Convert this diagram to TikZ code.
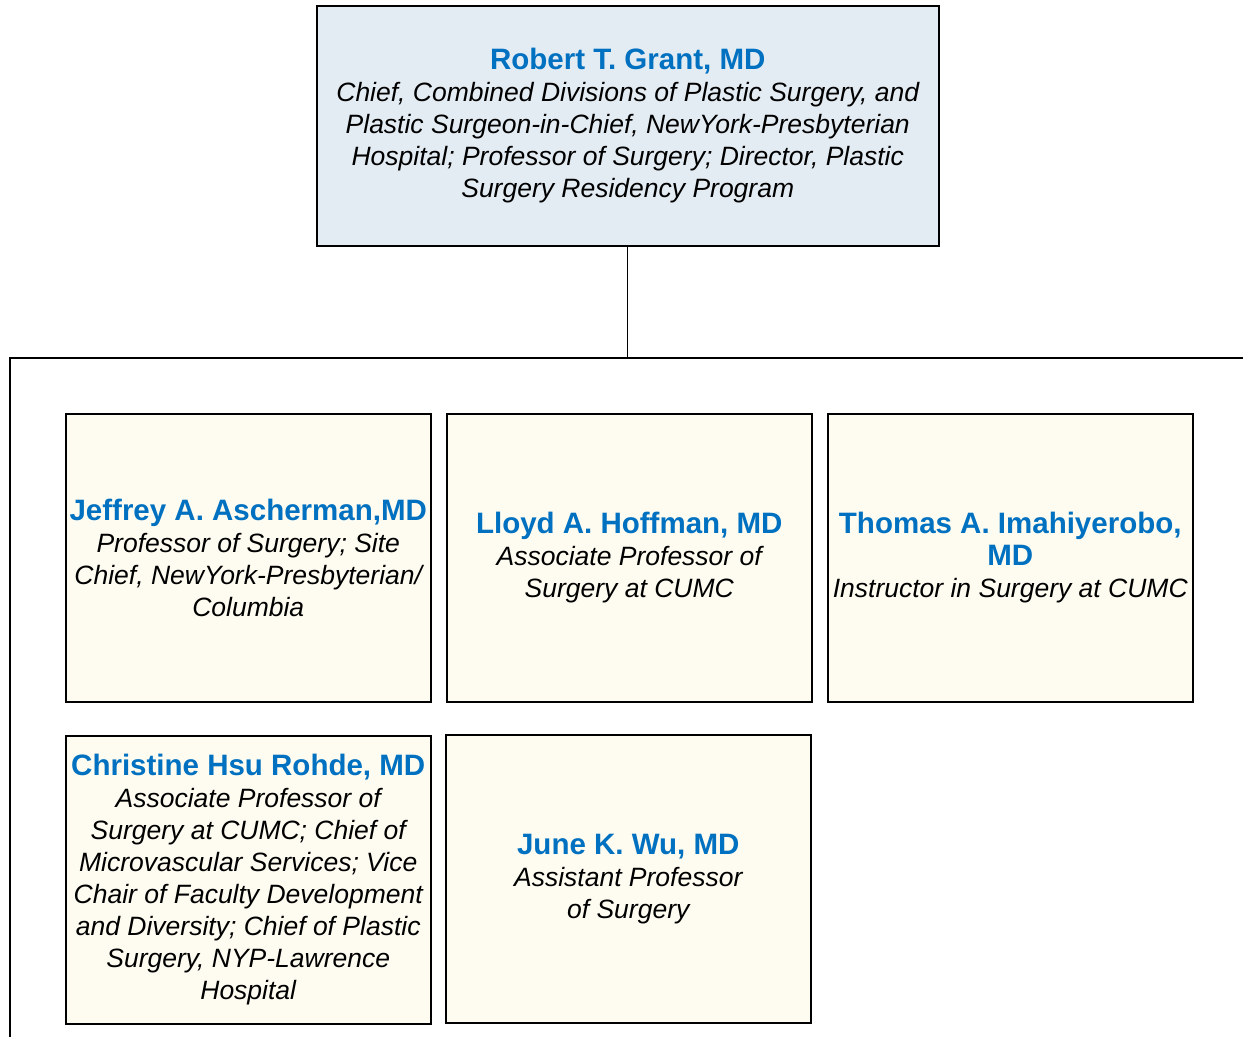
\documentclass[tikz,border=0pt]{standalone}
\usepackage{fontspec}
\setmainfont{Liberation Sans}
\definecolor{namecol}{HTML}{0070C0}
\definecolor{topfill}{HTML}{E4ECF3}
\definecolor{boxfill}{HTML}{FEFCF0}
\tikzset{
  personbox/.style={draw=black, line width=1.5pt, fill=boxfill, minimum width=365pt, minimum height=288pt, inner sep=0pt, align=center, anchor=north west, font=\fontsize{26.5}{32}\selectfont\itshape},
  topbox/.style={personbox, fill=topfill, minimum width=622pt, minimum height=240pt},
  wire/.style={draw=black, line width=1.4pt}
}
\newcommand{\pname}[1]{{\fontsize{29.5}{32}\selectfont\bfseries\upshape\color{namecol}#1}}
\begin{document}
\begin{tikzpicture}[x=1pt,y=-1pt]
\useasboundingbox (0,0) rectangle (1243,1037);
\node[topbox] (grant) at (316,5) {\pname{Robert T. Grant, MD}\\ Chief, Combined Divisions of Plastic Surgery, and\\ Plastic Surgeon-in-Chief, NewYork-Presbyterian\\ Hospital; Professor of Surgery; Director, Plastic\\ Surgery Residency Program};
\node[personbox] (asch) at (65,413) {\pname{Jeffrey A. Ascherman,MD}\\ Professor of Surgery; Site\\ Chief, NewYork-Presbyterian/\\ Columbia};
\node[personbox] (hoff) at (446,413) {\pname{Lloyd A. Hoffman, MD}\\ Associate Professor of\\ Surgery at CUMC};
\node[personbox] (imah) at (827,413) {\pname{Thomas A. Imahiyerobo,}\\ \pname{MD}\\ Instructor in Surgery at CUMC};
\node[personbox] (rohde) at (65,735) {\pname{Christine Hsu Rohde, MD}\\ Associate Professor of\\ Surgery at CUMC; Chief of\\ Microvascular Services; Vice\\ Chair of Faculty Development\\ and Diversity; Chief of Plastic\\ Surgery, NYP-Lawrence\\ Hospital};
\node[personbox] (wu) at (445,734) {\pname{June K. Wu, MD}\\ Assistant Professor\\ of Surgery};
\coordinate (busL) at (10,358);
\coordinate (busR) at (1243,358);
\coordinate (busD) at (10,1037);
\draw[wire] (grant.south) -- (grant.south |- busL);
\draw[wire] (busR) -- (busL) -- (busD);
\end{tikzpicture}
\end{document}
